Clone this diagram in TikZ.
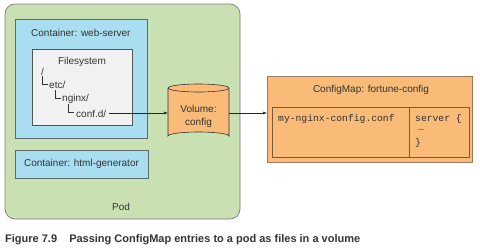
\documentclass[tikz,border=0pt]{standalone}
\usepackage{fontspec}
\setmainfont{Liberation Sans}
\newfontfamily\codefont{Liberation Mono}
\usetikzlibrary{arrows.meta}
\definecolor{podgreen}{HTML}{C9E1B2}
\definecolor{podedge}{HTML}{7A7A7A}
\definecolor{ctblue}{HTML}{A9DDF0}
\definecolor{ctedge}{HTML}{5A6A70}
\definecolor{fsgray}{HTML}{F1F1F1}
\definecolor{fsedge}{HTML}{555555}
\definecolor{cmorange}{HTML}{F9BB77}
\definecolor{cmedge}{HTML}{7A5A3A}
\definecolor{txt}{HTML}{333333}
\tikzset{
  lbl/.style={font=\fontsize{10}{12}\selectfont, text=txt, inner sep=0pt},
  code/.style={font=\codefont\fontsize{9.7}{11}\selectfont, text=txt, inner sep=0pt},
  tree/.style={draw=txt, line width=0.5pt},
  conn/.style={draw=black!85, line width=0.5pt, -{Latex[length=4pt,width=3pt]}},
}
\begin{document}
\begin{tikzpicture}[x=1pt,y=-1pt]
\useasboundingbox (0,0) rectangle (480,252);

% Pod
\draw[fill=podgreen, draw=podedge, line width=0.7pt, rounded corners=10pt]
  (5,4) rectangle (240,219);
\node[lbl] (podlbl) at (121,207) {Pod};

% Container: web-server
\draw[fill=ctblue, draw=ctedge, line width=0.6pt] (15,19) rectangle (147,138);
\node[lbl, anchor=west] (wslbl) at (31,33) {Container: web-server};

% Filesystem
\draw[fill=fsgray, draw=fsedge, line width=0.6pt] (32,49) rectangle (132,125);
\node[lbl] (fslbl) at (82,62) {Filesystem};
\node[lbl, anchor=west] (root) at (41,72) {/};
\draw[tree] (42.5,76) -- (42.5,84) -- (48,84);
\node[lbl, anchor=west] (etc) at (49,85) {etc/};
\draw[tree] (55.5,90) -- (55.5,98) -- (61,98);
\node[lbl, anchor=west] (nginx) at (62,99) {nginx/};
\draw[tree] (68.5,104) -- (68.5,112) -- (74,112);
\node[lbl, anchor=west] (confd) at (76,113.5) {conf.d/};

% Container: html-generator
\draw[fill=ctblue, draw=ctedge, line width=0.6pt] (15,150) rectangle (148,178);
\node[lbl] (hglbl) at (81.5,164) {Container: html-generator};

% Volume cylinder
\draw[fill=cmorange, draw=black!80, line width=0.6pt]
  (168,88) -- (168,136) arc[start angle=180, end angle=360, x radius=30.5, y radius=4]
  -- (229,88) arc[start angle=0, end angle=-180, x radius=30.5, y radius=4] -- cycle;
\draw[draw=black!80, line width=0.6pt]
  (168,88) arc[start angle=180, end angle=360, x radius=30.5, y radius=-4];
\node[lbl, align=center] (vol) at (198.5,116) {Volume:\\[1pt]config};
\coordinate (volW) at (168,113);
\coordinate (volE) at (229,113);

% ConfigMap
\draw[fill=cmorange, draw=cmedge!80, line width=0.6pt] (267,76) rectangle (472,162);
\node[lbl] (cmlbl) at (371,90) {ConfigMap: fortune-config};
\draw[draw=cmedge, line width=0.6pt] (272,107) rectangle (469,157);
\draw[draw=cmedge, line width=0.6pt] (409,107) -- (409,157);
\node[code, anchor=west] (key) at (278,119) {my-nginx-config.conf};
\node[code, anchor=west] (v1) at (415,119) {server \{};
\node[code, anchor=west] (v2) at (418,130) {…};
\node[code, anchor=west] (v3) at (415,143) {\}};
\coordinate (cmW) at (267,113);

% Connectors
\draw[conn] (confd.east |- volW) ++(3,0) coordinate (cdE) (cdE) -- (volW);
\draw[conn] (volE) -- (cmW);

% Caption
\node[anchor=west, inner sep=0pt, text=txt, font=\bfseries\fontsize{11}{13}\selectfont] (cap) at (5,240)
  {Figure 7.9\hspace{1.1em}Passing ConfigMap entries to a pod as files in a volume};
\end{tikzpicture}
\end{document}
